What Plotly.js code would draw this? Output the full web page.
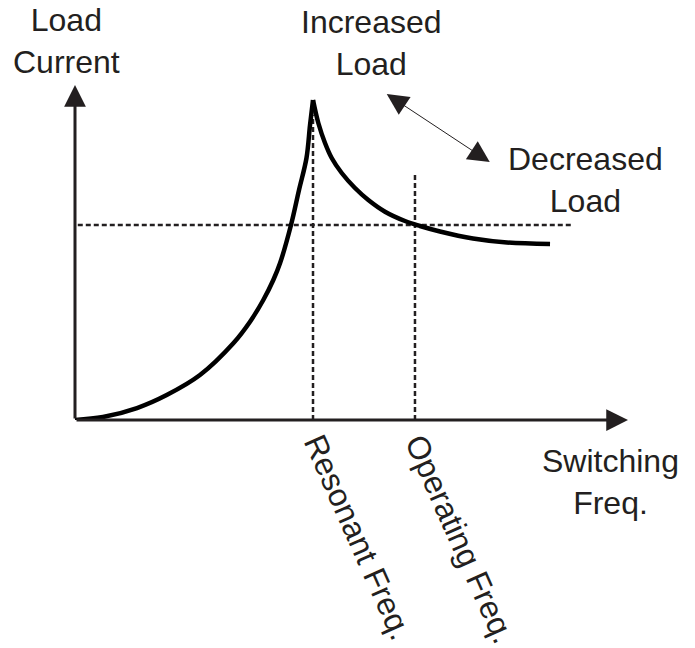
<!DOCTYPE html>
<html>
<head>
<meta charset="utf-8">
<script src="https://cdn.plot.ly/plotly-3.0.1.min.js"></script>
<style>html,body{margin:0;padding:0;background:#fff;}#chart{width:695px;height:648px;}</style>
</head>
<body>
<div id="chart"></div>
<script>
// Values (arbitrary units, axes run 0..100)
const riseFreq    = [0, 5.06, 11.21, 16.58, 22.60, 28.63, 31.65, 34.05, 35.86, 37.07, 39.06, 40.51, 41.86, 42.50, 43.04];
const riseCurrent = [0, 0.90, 3.58, 7.46, 13.43, 22.90, 29.34, 35.82, 41.79, 46.78, 58.21, 68.66, 78.21, 88.06, 95.52];
const fallFreq    = [43.04, 44.00, 45.21, 46.42, 48.23, 50.63, 53.04, 56.06, 59.67, 62.39, 66.00, 71.97, 78.12, 85.90];
const fallCurrent = [95.52, 88.66, 82.69, 78.21, 73.73, 69.25, 65.67, 62.18, 59.40, 57.91, 56.27, 54.18, 52.99, 52.54];
const resonantFreq = 43.04;
const resonantTop = 91;
const operatingFreq = 61.48;
const operatingTop = 73.4;
const operatingCurrent = 58.2;
const refLineStart = 0.5;
const refLineEnd = 89.9;
const axisMax = 100;
const loadArrowFrom = [56.1, 97.6];
const loadArrowTo = [75.0, 77.0];
const labels = {
  yTitle: 'Load<br>Current',
  xTitle: 'Switching<br>Freq.',
  increased: 'Increased<br>Load',
  decreased: 'Decreased<br>Load',
  resonant: 'Resonant Freq.',
  operating: 'Operating Freq.'
};

const ink = '#231f20';
const dotted = {color: ink, width: 2.5, dash: '5px,3px'};
const curveLine = {color: '#000', width: 4.5, shape: 'spline', smoothing: 1};
const traces = [
  {x: [resonantFreq, resonantFreq], y: [0, resonantTop], mode: 'lines', line: dotted, hoverinfo: 'skip'},
  {x: [operatingFreq, operatingFreq], y: [0, operatingTop], mode: 'lines', line: dotted, hoverinfo: 'skip'},
  {x: [refLineStart, refLineEnd], y: [operatingCurrent, operatingCurrent], mode: 'lines', line: dotted, hoverinfo: 'skip'},
  {x: riseFreq, y: riseCurrent, mode: 'lines', line: curveLine, hoverinfo: 'skip'},
  {x: fallFreq, y: fallCurrent, mode: 'lines', line: curveLine, hoverinfo: 'skip'}
];

const font = {family: '"Liberation Sans", Arial, Helvetica, sans-serif', size: 32, color: ink};
// label positions in paper fractions of the plot area
function label(text, x, y, extra) {
  return Object.assign({text: text, x: x, y: y, xref: 'paper', yref: 'paper', showarrow: false,
    xanchor: 'center', yanchor: 'middle', font: font, align: 'center'}, extra || {});
}

const annotations = [
  // axes with arrowheads
  {x: 0, y: axisMax, ax: 0, ay: 0, xref: 'x', yref: 'y', axref: 'x', ayref: 'y', text: '', showarrow: true,
   arrowhead: 2, arrowsize: 1.45, arrowwidth: 3, arrowcolor: ink, standoff: 0},
  {x: axisMax, y: 0, ax: 0, ay: 0, xref: 'x', yref: 'y', axref: 'x', ayref: 'y', text: '', showarrow: true,
   arrowhead: 2, arrowsize: 1.45, arrowwidth: 3, arrowcolor: ink, standoff: 0},
  // load change arrow
  {x: loadArrowTo[0], y: loadArrowTo[1], ax: loadArrowFrom[0], ay: loadArrowFrom[1], xref: 'x', yref: 'y', axref: 'x', ayref: 'y',
   text: '', showarrow: true, arrowside: 'end+start', arrowhead: 2, startarrowhead: 2, arrowsize: 4.3, startarrowsize: 4.3,
   arrowwidth: 1, arrowcolor: ink, standoff: 0, startstandoff: 0},
  label(labels.yTitle, -0.0145, 1.13),
  label(labels.increased, 0.537, 1.125),
  label(labels.decreased, 0.924, 0.716),
  label(labels.xTitle, 0.969, -0.185),
  label(labels.resonant, resonantFreq / axisMax, 0, {textangle: 66, xshift: 45, yshift: -117}),
  label(labels.operating, operatingFreq / axisMax, 0, {textangle: 66, xshift: 45, yshift: -119})
];

const hidden = {range: [0, axisMax], showgrid: false, zeroline: false, showline: false, showticklabels: false, ticks: '', fixedrange: true};
const layout = {
  width: 695, height: 648,
  margin: {l: 75, r: 67, t: 85, b: 228, pad: 0},
  paper_bgcolor: '#fff', plot_bgcolor: '#fff',
  showlegend: false,
  xaxis: hidden,
  yaxis: Object.assign({}, hidden),
  annotations: annotations
};
Plotly.newPlot('chart', traces, layout, {displayModeBar: false, staticPlot: true});
</script>
</body>
</html>
